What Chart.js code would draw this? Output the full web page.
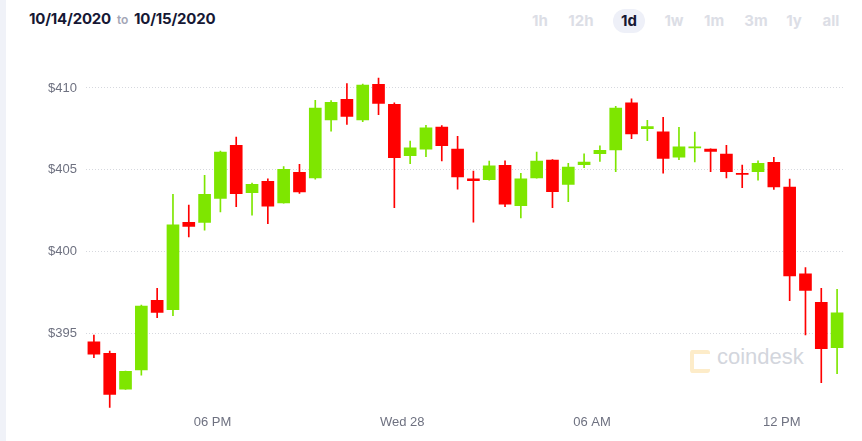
<!DOCTYPE html>
<html>
<head>
<meta charset="utf-8">
<script src="https://cdn.jsdelivr.net/npm/chart.js@4/dist/chart.umd.min.js"></script>
<style>
  html, body { margin: 0; padding: 0; background: #fff; }
  #wrap { position: relative; width: 862px; height: 441px; overflow: hidden; background: #fff; }
  #strip { position: absolute; left: 0; top: 0; width: 6px; height: 441px; background: #f0f2f8; }
  #chart { position: absolute; left: 0; top: 0; z-index: 2; }
  .hdr { position: absolute; font-family: Inter, "Noto Sans", sans-serif; white-space: nowrap; }
  #range { left: 29px; top: 9px; font-size: 15px; font-weight: 700; color: #161834; letter-spacing: -0.2px; }
  #range .to { font-size: 12px; font-weight: 600; color: #a4a6b6; margin: 0 6px; }
  .btn { position: absolute; top: 9px; height: 24px; line-height: 24px; font-family: Inter, "Noto Sans", sans-serif; font-size: 15px; font-weight: 700; color: #dcdee6; text-align: center; }
  .btn.on { background: #eef0f8; color: #161834; border-radius: 12px; }
  #wm { position: absolute; left: 690px; top: 344px; z-index: 1; }
  #wm .ic { position: absolute; left: 0; top: 6px; width: 16px; height: 15px; border: 4px solid #fdecc9; border-right: none; border-radius: 3px; }
  #wm .tx { position: absolute; left: 27px; top: 0; font-family: "Liberation Sans", Arial, sans-serif; font-size: 22px; color: #d3d6dd; }
</style>
</head>
<body>
<div id="wrap">
  <div id="strip"></div>
  <div class="hdr" id="range">10/14/2020<span class="to">to</span>10/15/2020</div>
  <div class="btn" style="left:528px;width:24px;">1h</div>
  <div class="btn" style="left:566px;width:30px;">12h</div>
  <div class="btn on" style="left:613px;width:32px;">1d</div>
  <div class="btn" style="left:662px;width:24px;">1w</div>
  <div class="btn" style="left:702px;width:24px;">1m</div>
  <div class="btn" style="left:743px;width:26px;">3m</div>
  <div class="btn" style="left:783px;width:22px;">1y</div>
  <div class="btn" style="left:820px;width:22px;">all</div>
  <div id="wm"><div class="ic"></div><div class="tx">coindesk</div></div>
  <canvas id="chart" width="862" height="441"></canvas>
</div>
<script>
const times = ['14:00','14:30','15:00','15:30','16:00','16:30','17:00','17:30','18:00','18:30',
  '19:00','19:30','20:00','20:30','21:00','21:30','22:00','22:30','23:00','23:30',
  '00:00','00:30','01:00','01:30','02:00','02:30','03:00','03:30','04:00','04:30',
  '05:00','05:30','06:00','06:30','07:00','07:30','08:00','08:30','09:00','09:30',
  '10:00','10:30','11:00','11:30','12:00','12:30','13:00','13:30'];

const opens  = [394.47,393.76,391.57,392.74,397.00,396.43,401.77,401.77,403.24,406.49,
  403.59,404.28,402.97,404.83,404.50,408.05,409.30,408.04,410.22,409.00,
  405.85,406.26,407.61,406.26,404.44,404.38,405.26,402.79,404.50,405.59,
  404.10,405.30,405.97,406.20,409.09,407.50,407.32,405.77,406.33,406.26,
  405.95,404.78,404.87,405.45,403.94,398.63,396.88,394.10];
const highs  = [394.88,393.90,392.68,396.71,397.74,403.49,402.83,404.65,406.14,406.99,
  404.18,404.44,405.18,405.32,409.24,409.22,410.26,410.24,410.61,409.09,
  406.75,407.71,407.69,407.04,404.91,405.53,405.54,404.77,406.08,405.62,
  405.39,405.97,406.46,408.87,409.34,408.02,408.20,407.59,407.30,406.28,
  406.49,405.28,405.54,405.75,404.42,399.00,397.74,397.67];
const lows   = [393.49,390.45,391.55,392.43,395.94,396.06,400.89,401.29,402.42,402.73,
  402.22,401.69,402.95,403.55,404.42,407.36,407.77,407.93,408.36,402.67,
  405.36,405.79,405.54,403.81,401.79,404.36,402.73,402.04,404.48,402.67,
  403.04,405.12,405.51,404.87,406.89,406.77,404.79,405.61,405.48,404.87,
  404.49,403.89,404.35,403.79,396.98,394.88,391.96,392.51];
const closes = [393.71,391.25,392.66,396.65,396.27,401.63,401.53,403.49,406.08,403.53,
  404.10,402.77,405.02,403.63,408.77,409.12,408.26,410.18,409.06,405.73,
  406.34,407.56,406.46,404.55,404.33,405.24,402.88,404.44,405.53,403.65,
  405.16,405.47,406.18,408.77,407.18,407.63,405.69,406.40,406.40,406.12,
  404.87,404.71,405.39,403.94,398.49,397.61,394.04,396.24];

const tickTimes  = ['18:00','00:00','06:00','12:00'];
const tickLabels = ['06 PM','Wed 28','06 AM','12 PM'];
const yTicks = [395, 400, 405, 410];

const UP = '#7ee600', DOWN = '#ff0000';
const colors = opens.map((o, i) => closes[i] >= o ? UP : DOWN);
const bodies = times.map((t, i) => ({ x: i, y: [opens[i], closes[i]] }));
const wicks  = times.map((t, i) => ({ x: i, y: [lows[i], highs[i]] }));
const tickPos = tickTimes.map(t => times.indexOf(t) - 0.5);

new Chart(document.getElementById('chart'), {
  type: 'bar',
  data: {
    datasets: [
      { data: bodies, backgroundColor: colors, borderWidth: 0, barThickness: 12, grouped: false, order: 0 },
      { data: wicks, backgroundColor: colors, borderWidth: 0, barThickness: 1, grouped: false, order: 1 }
    ]
  },
  options: {
    responsive: false,
    animation: false,
    devicePixelRatio: 1,
    layout: { padding: { top: 68, right: 17, bottom: 0, left: 0 } },
    plugins: { legend: { display: false }, tooltip: { enabled: false } },
    scales: {
      x: {
        type: 'linear',
        min: -0.5, max: times.length - 0.5,
        offset: false,
        grid: { display: false, drawTicks: false },
        border: { display: false },
        afterBuildTicks: s => { s.ticks = tickPos.map(v => ({ value: v })); },
        afterFit: s => { s.height = 29.5; },
        ticks: {
          autoSkip: false, maxRotation: 0, padding: 3,
          color: '#6e7180',
          font: { family: '"Liberation Sans", Arial, sans-serif', size: 13 },
          callback: (v) => { const k = tickPos.indexOf(v); return k >= 0 ? tickLabels[k] : ''; }
        }
      },
      y: {
        min: 390.2, max: 411.22,
        grid: { color: '#d6d8de', lineWidth: 1, drawTicks: false },
        border: { display: false, dash: [1, 2] },
        afterBuildTicks: s => { s.ticks = yTicks.map(v => ({ value: v })); },
        afterFit: s => { s.width = 86; },
        ticks: {
          padding: 9,
          color: '#6e7180',
          font: { family: '"Liberation Sans", Arial, sans-serif', size: 13 },
          callback: v => '$' + v
        }
      }
    }
  }
});
</script>
</body>
</html>
